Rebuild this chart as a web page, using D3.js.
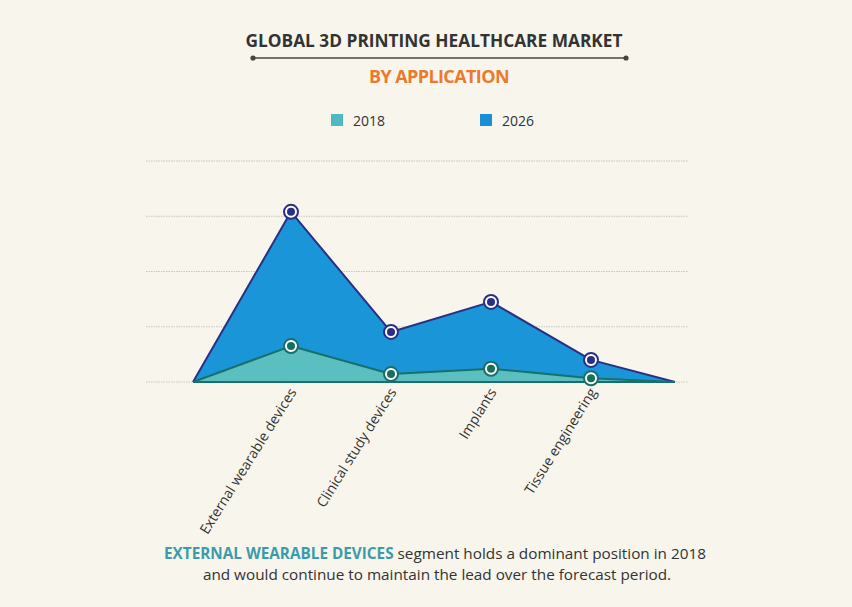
<!DOCTYPE html>
<html>
<head>
<meta charset="utf-8">
<script src="https://cdn.jsdelivr.net/npm/d3@7/dist/d3.min.js"></script>
<style>
  html, body { margin: 0; padding: 0; background: #f8f5ec; }
  svg { display: block; }
</style>
</head>
<body>
<svg id="chart" width="852" height="607"></svg>
<script>
// Application segments and market size (USD million, relative units)
const categories = ["External wearable devices", "Clinical study devices", "Implants", "Tissue engineering"];
const years = ["2018", "2026"];
const values2018 = [325, 72, 120, 34];
const values2026 = [1540, 453, 725, 200];
const gridTicks = [0, 500, 1000, 1500, 2000];
// Area ends taper to zero slightly outside the first and last category
const edgeStart = -0.98;
const edgeEnd = 3.84;

const W = 852, H = 607;
const svg = d3.select("#chart");
const font = "'Open Sans', 'Noto Sans', sans-serif";

const colors = {
  bg: "#f8f5ec",
  fill2018: "#5cbfbf",
  stroke2018: "#196f6c",
  fill2026: "#1a96d8",
  stroke2026: "#2a2f86",
  dot2018: "#17705c",
  grid: "#c9c6bf",
  title: "#333333",
  orange: "#ea7a2e",
  teal: "#3b9bab"
};

svg.append("rect").attr("width", W).attr("height", H).attr("fill", colors.bg);

// Scales
const x = d3.scaleLinear().domain([0, 3]).range([291, 591]);
const y = d3.scaleLinear().domain([0, 2000]).range([382, 161]);

// Gridlines
svg.append("g").selectAll("line").data(gridTicks).join("line")
  .attr("x1", 146).attr("x2", 688)
  .attr("y1", d => y(d)).attr("y2", d => y(d))
  .attr("stroke", colors.grid).attr("stroke-width", 1)
  .attr("stroke-dasharray", "1.5,1");

// Build series with zero-valued edges
function series(vals) {
  const pts = [{ i: edgeStart, v: 0 }];
  vals.forEach((v, i) => pts.push({ i, v }));
  pts.push({ i: edgeEnd, v: 0 });
  return pts;
}

const area = d3.area().x(d => x(d.i)).y0(y(0)).y1(d => y(d.v));
const line = d3.line().x(d => x(d.i)).y(d => y(d.v));

const s2026 = series(values2026);
const s2018 = series(values2018);

svg.append("path").datum(s2026).attr("d", area).attr("fill", colors.fill2026);
svg.append("path").datum(s2026).attr("d", line).attr("fill", "none")
  .attr("stroke", colors.stroke2026).attr("stroke-width", 2).attr("stroke-linejoin", "round");

svg.append("path").datum(s2018).attr("d", area).attr("fill", colors.fill2018);
svg.append("path").datum(s2018).attr("d", line).attr("fill", "none")
  .attr("stroke", colors.stroke2018).attr("stroke-width", 2).attr("stroke-linejoin", "round");

// Baseline along the foot of the areas
svg.append("line")
  .attr("x1", x(edgeStart)).attr("x2", x(edgeEnd))
  .attr("y1", y(0)).attr("y2", y(0))
  .attr("stroke", colors.stroke2018).attr("stroke-width", 2);

// Markers
function markers(vals, ring, core) {
  const g = svg.append("g");
  g.selectAll("circle.o").data(vals).join("circle").attr("class", "o")
    .attr("cx", (d, i) => x(i)).attr("cy", d => y(d))
    .attr("r", 7).attr("fill", "#ffffff").attr("stroke", ring).attr("stroke-width", 2);
  g.selectAll("circle.c").data(vals).join("circle").attr("class", "c")
    .attr("cx", (d, i) => x(i)).attr("cy", d => y(d))
    .attr("r", 4).attr("fill", core);
}
markers(values2026, colors.stroke2026, colors.stroke2026);
markers(values2018, colors.stroke2018, colors.dot2018);

// Category labels, rotated
svg.append("g").selectAll("text").data(categories).join("text")
  .attr("transform", (d, i) => `translate(${x(i) + 6},${y(0) + 10}) rotate(-58)`)
  .attr("text-anchor", "end")
  .attr("font-family", font).attr("font-size", 14).attr("fill", "#333")
  .text(d => d);

// Title block
svg.append("text").attr("x", 434).attr("y", 47).attr("text-anchor", "middle")
  .attr("font-family", font).attr("font-weight", 700).attr("font-size", 17.3)
  .attr("fill", colors.title).text("GLOBAL 3D PRINTING HEALTHCARE MARKET");
svg.append("line").attr("x1", 253).attr("x2", 626).attr("y1", 58).attr("y2", 58)
  .attr("stroke", "#444").attr("stroke-width", 1.5);
svg.selectAll("circle.tdot").data([253, 626]).join("circle").attr("class", "tdot")
  .attr("cx", d => d).attr("cy", 58).attr("r", 2.6).attr("fill", "#444");
svg.append("text").attr("x", 439).attr("y", 83).attr("text-anchor", "middle")
  .attr("font-family", font).attr("font-weight", 700).attr("font-size", 18)
  .attr("letter-spacing", -0.6)
  .attr("fill", colors.orange).text("BY APPLICATION");

// Legend
const legend = svg.append("g");
const legendX = [331, 480];
const legendColors = ["#4db8c0", "#1a8fd8"];
years.forEach((yr, i) => {
  legend.append("rect").attr("x", legendX[i]).attr("y", 114).attr("width", 12).attr("height", 12)
    .attr("fill", legendColors[i]);
  legend.append("text").attr("x", legendX[i] + 22).attr("y", 126)
    .attr("font-family", font).attr("font-size", 14).attr("fill", "#333").text(yr);
});

// Footnote
const foot = svg.append("text").attr("x", 435).attr("y", 559).attr("text-anchor", "middle")
  .attr("font-family", font).attr("font-size", 15.3).attr("fill", "#333");
foot.append("tspan").attr("font-weight", 700).attr("fill", colors.teal).text("EXTERNAL WEARABLE DEVICES");
foot.append("tspan").text(" segment holds a dominant position in 2018");
svg.append("text").attr("x", 437).attr("y", 580).attr("text-anchor", "middle")
  .attr("font-family", font).attr("font-size", 15.3).attr("fill", "#333")
  .text("and would continue to maintain the lead over the forecast period.");
</script>
</body>
</html>
